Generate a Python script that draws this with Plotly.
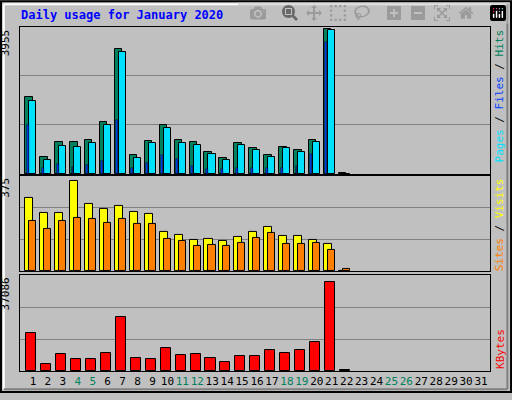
import plotly.graph_objects as go

days = list(range(1, 23))
hits = [2103, 465, 868, 868, 922, 1405, 3418, 519, 895, 1324, 922, 868, 600, 438, 841, 707, 519, 734, 653, 922, 3955, 25]
files = [1995, 385, 761, 734, 841, 1324, 3338, 438, 841, 1244, 841, 787, 546, 385, 787, 653, 465, 707, 600, 868, 3928, 0]
pages = [1324, 170, 277, 197, 250, 358, 1458, 170, 304, 519, 412, 224, 143, 143, 170, 170, 170, 170, 224, 546, 3606, 0]
visits = [302, 240, 240, 375, 281, 257, 269, 245, 236, 163, 151, 130, 134, 126, 143, 163, 183, 147, 147, 130, 114, 3]
sites = [208, 175, 208, 220, 216, 200, 216, 196, 196, 134, 126, 106, 110, 106, 118, 139, 159, 114, 114, 118, 90, 8]
kbytes = [15836, 2842, 6903, 4873, 4873, 7309, 22332, 5279, 4873, 9745, 6497, 6903, 5279, 3654, 6091, 6091, 8933, 7309, 8527, 12181, 37086, 400]
tick_days = list(range(1, 32))
weekend = {4, 5, 11, 12, 18, 19, 25, 26}

fig = go.Figure()
def bar(y, color, off, w, ax, lw=1):
    fig.add_trace(go.Bar(x=days, y=y, offset=off, width=w, marker=dict(color=color, line=dict(color="black", width=lw)),
                         xaxis="x" + ax, yaxis="y" + ax, showlegend=False, hoverinfo="skip"))

bar(hits, "#00805C", -0.52, 0.5, "")
bar(files, "#00E0FF", -0.25, 0.47, "")
bar(pages, "#0040FF", -0.42, 0.13, "", 0.5)
bar(visits, "#FFFF00", -0.52, 0.54, "2")
bar(sites, "#FF8000", -0.25, 0.47, "2")
bar(kbytes, "#FF0000", -0.45, 0.67, "3")

xr = [0.13, 31.6]
rng = {"": 4008, "2": 395, "3": 39940}
dom = {"": [0.573, 1], "2": [0.29, 0.567], "3": [0, 0.279]}
lay = {}
for ax in ["", "2", "3"]:
    r = rng[ax]
    lay["xaxis" + ax] = dict(range=xr, domain=[0, 1], anchor="y" + ax, showgrid=False, zeroline=False,
                             showline=True, mirror=True, linecolor="black", linewidth=1,
                             showticklabels=(ax == "3"), ticks="", tickangle=0,
                             tickvals=tick_days,
                             ticktext=[('<span style="color:#00805C">%d</span>' % d) if d in weekend else str(d) for d in tick_days],
                             tickfont=dict(family="DejaVu Sans Mono", size=11, color="black"),
                             **({} if ax == "" else {"matches": "x"}))
    lay["yaxis" + ax] = dict(range=[0, r], domain=dom[ax], anchor="x" + ax, tickvals=[r / 3, 2 * r / 3],
                             showticklabels=False, gridcolor="#808080", gridwidth=1, zeroline=False,
                             showline=True, mirror=True, linecolor="black", ticks="")
fig.update_layout(**lay)

fig.update_layout(
    width=512, height=400, margin=dict(l=20, r=22, t=27, b=22),
    paper_bgcolor="#C0C0C0", plot_bgcolor="#C0C0C0", barmode="overlay", bargap=0,
    font=dict(family="DejaVu Sans Mono", size=11, color="black"),
)
annots = [
    dict(text="<b>Daily usage for January 2020</b>", xref="paper", yref="paper", x=-0.002, y=1.034,
         xanchor="left", yanchor="middle", showarrow=False, font=dict(color="#0000FF", size=12)),
    dict(text="3955", xref="paper", yref="paper", x=-0.012, y=1.0, xanchor="right", yanchor="top",
         textangle=-90, showarrow=False, font=dict(size=11)),
    dict(text="375", xref="paper", yref="paper", x=-0.012, y=0.567, xanchor="right", yanchor="top",
         textangle=-90, showarrow=False, font=dict(size=11)),
    dict(text="37086", xref="paper", yref="paper", x=-0.012, y=0.279, xanchor="right", yanchor="top",
         textangle=-90, showarrow=False, font=dict(size=11)),
    dict(text='<span style="color:#00E0FF">Pages</span> / <span style="color:#0040FF">Files</span> / <span style="color:#00805C">Hits</span>',
         xref="paper", yref="paper", x=1.003, y=1.0, xanchor="left", yanchor="top", textangle=-90,
         showarrow=False, font=dict(size=11, color="black")),
    dict(text='<span style="color:#FF8000">Sites</span> / <span style="color:#FFFF00">Visits</span>',
         xref="paper", yref="paper", x=1.003, y=0.567, xanchor="left", yanchor="top", textangle=-90,
         showarrow=False, font=dict(size=11, color="black")),
    dict(text='<span style="color:#FF0000">KBytes</span>',
         xref="paper", yref="paper", x=1.003, y=0.0, xanchor="left", yanchor="bottom", textangle=-90,
         showarrow=False, font=dict(size=11, color="black")),
]
fig.update_layout(annotations=annots)
fig.update_layout(shapes=[
    dict(type="rect", xref="paper", yref="paper", x0=-0.0405, x1=1.0448, y0=-0.0607, y1=1.0749,
         line=dict(color="black", width=2)),
    dict(type="line", xref="paper", yref="paper", x0=-0.0345, x1=1.037, y0=1.066, y1=1.066, line=dict(color="white", width=2)),
    dict(type="line", xref="paper", yref="paper", x0=-0.0345, x1=-0.0345, y0=-0.053, y1=1.066, line=dict(color="white", width=2)),
    dict(type="line", xref="paper", yref="paper", x0=-0.0345, x1=1.037, y0=-0.053, y1=-0.053, line=dict(color="#808080", width=2)),
    dict(type="line", xref="paper", yref="paper", x0=1.037, x1=1.037, y0=-0.053, y1=1.066, line=dict(color="#808080", width=2)),
])
fig.write_html("out.html", post_script="document.body.style.margin='0';document.body.style.overflow='hidden';")
